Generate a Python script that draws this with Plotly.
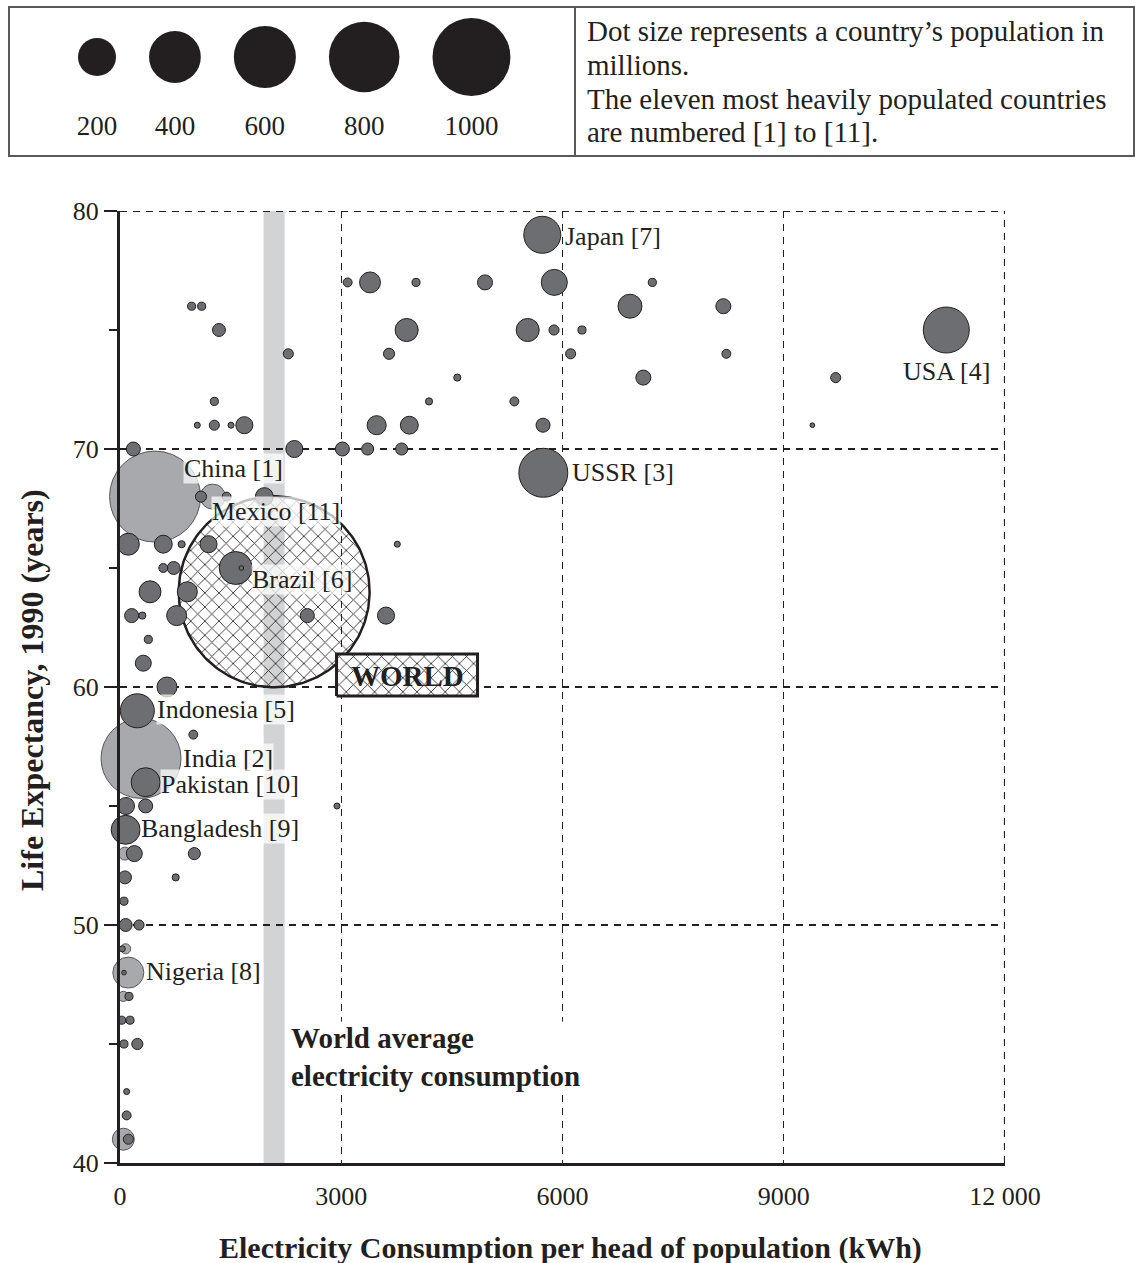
import numpy as np
import plotly.graph_objects as go

# ---------------- data ----------------
# unlabelled countries drawn in dark grey: kWh per head, life expectancy (years), population (millions)
dark_kwh = [971, 1107, 1342, 2282, 1279, 1048, 1279, 1505, 1686, 181, 2364, 3015, 3358, 3819,
            3087, 3390, 4014, 4949, 5889, 7218, 6915, 8181, 3887, 5528, 5885, 6264, 3648, 6110,
            8222, 4574, 7096, 9705, 4190, 5347, 3480, 3923, 5736, 9388, 1098, 1446, 1957, 113,
            587, 836, 1200, 3760, 587, 728, 1645, 407, 913, 158, 303, 768, 2540, 3607, 384, 316,
            637, 994, 2942, 81, 348, 194, 1008, 68, 755, 54, 77, 258, 31, 54, 122, 23, 136, 54,
            235, 90, 90, 113]
dark_life = [76, 76, 75, 74, 72, 71, 71, 71, 71, 70, 70, 70, 70, 70,
             77, 77, 77, 77, 77, 77, 76, 76, 75, 75, 75, 75, 74, 74,
             74, 73, 73, 73, 72, 72, 71, 71, 71, 71, 68, 68, 68, 66,
             66, 66, 66, 66, 65, 65, 65, 64, 64, 63, 63, 63, 63, 63, 62, 61,
             60, 58, 55, 55, 55, 53, 53, 52, 52, 51, 50, 50, 49, 48, 47, 46, 46, 45,
             45, 43, 42, 41]
dark_pop = [9, 9, 23, 14, 9, 5, 14, 5, 40, 27, 40, 27, 20, 20,
            11, 60, 9, 31, 93, 9, 79, 31, 73, 73, 14, 9, 17, 14,
            11, 7, 31, 14, 7, 11, 50, 44, 27, 3, 17, 11, 44, 66,
            44, 7, 40, 5, 11, 23, 3, 66, 55, 27, 7, 55, 27, 40, 9, 35,
            55, 11, 5, 40, 27, 35, 20, 23, 7, 9, 23, 14, 5, 3, 9, 9, 9, 9,
            17, 5, 11, 14]

# unlabelled countries drawn in light grey
light_kwh = [68, 77, 45, 45]
light_life = [53, 49, 47, 41]
light_pop = [23, 14, 14, 66]

# the eleven most populated countries
named = ["China [1]", "India [2]", "USSR [3]", "USA [4]", "Indonesia [5]", "Brazil [6]",
         "Japan [7]", "Nigeria [8]", "Bangladesh [9]", "Pakistan [10]", "Mexico [11]"]
named_kwh = [475, 285, 5740, 11204, 235, 1569, 5726, 113, 77, 348, 1257]
named_life = [68, 57, 69, 75, 59, 65, 79, 48, 54, 56, 68]
named_pop = [1136, 878, 329, 290, 159, 149, 188, 132, 115, 115, 86]
named_shade = ["light", "light", "dark", "dark", "dark", "dark", "dark", "light", "dark", "dark", "light"]

# world
world_kwh = 2090          # world average electricity consumption per head
world_life = 64.0
world_pop = 5000
world_label_kwh = 3892
world_label_life = 60.5

legend_pop = [200, 400, 600, 800, 1000]
x_ticks = [0, 3000, 6000, 9000, 12000]
x_ticktext = ["0", "3000", "6000", "9000", "12 000"]
y_ticks = [40, 50, 60, 70, 80]
y_minor = [45, 55, 65, 75]

# ---------------- styling ----------------
W, H = 1135, 1263
FONT = "Liberation Serif"
INK = "#231f20"
DARK = "#6d6e71"
LIGHT = "#a7a9ac"
BAND = "#d1d3d4"
BOX = "#58595b"
DASH = "7px,6px"
L, R, T, B = 120, 1005, 211, 1163          # plot box in px
X_RANGE = [0, 12000]
Y_RANGE = [40, 80]
PX_PER_X = (R - L) / (X_RANGE[1] - X_RANGE[0])
PX_PER_Y = (B - T) / (Y_RANGE[1] - Y_RANGE[0])
BAND_HALF_KWH = 142
HATCH = dict(shape="x", size=10, solidity=0.16, fgcolor=INK, fgopacity=1)


def diam(p):
    return 2.7 * np.sqrt(np.asarray(p, dtype=float))


def legend_diam(p):
    return 3.58 * np.asarray(p, dtype=float) ** 0.446


fig = go.Figure()

# world circle (hatched)
wr = diam(world_pop) / 2
th = np.linspace(0, 2 * np.pi, 241)
fig.add_trace(go.Scatter(
    x=world_kwh + wr / PX_PER_X * np.cos(th),
    y=world_life + wr / PX_PER_Y * np.sin(th),
    mode="lines", fill="toself", fillcolor="rgba(255,255,255,0)",
    fillpattern=dict(HATCH, bgcolor="rgba(255,255,255,0)"),
    line=dict(color=INK, width=2.5), hoverinfo="skip", cliponaxis=False))

# WORLD label box (hatched)
hw, hh = 70.5 / PX_PER_X, 21 / PX_PER_Y
fig.add_trace(go.Scatter(
    x=[world_label_kwh - hw, world_label_kwh + hw, world_label_kwh + hw, world_label_kwh - hw, world_label_kwh - hw],
    y=[world_label_life - hh, world_label_life - hh, world_label_life + hh, world_label_life + hh, world_label_life - hh],
    mode="lines", fill="toself", fillcolor="white",
    fillpattern=dict(HATCH, bgcolor="white"),
    line=dict(color=INK, width=3), hoverinfo="skip", cliponaxis=False))


def bubble_trace(xs, ys, ps, fill, edge):
    order = np.argsort(-np.asarray(ps, dtype=float), kind="stable")
    xs = np.asarray(xs, dtype=float)[order]
    ys = np.asarray(ys, dtype=float)[order]
    ps = np.asarray(ps, dtype=float)[order]
    return go.Scatter(x=xs, y=ys, mode="markers",
                      marker=dict(size=diam(ps), color=fill, line=dict(color=edge, width=1), opacity=1),
                      hoverinfo="skip", cliponaxis=False)


lx = light_kwh + [k for k, s in zip(named_kwh, named_shade) if s == "light"]
ly = light_life + [k for k, s in zip(named_life, named_shade) if s == "light"]
lp = light_pop + [k for k, s in zip(named_pop, named_shade) if s == "light"]
fig.add_trace(bubble_trace(lx, ly, lp, LIGHT, BOX))

dx = dark_kwh + [k for k, s in zip(named_kwh, named_shade) if s == "dark"]
dy = dark_life + [k for k, s in zip(named_life, named_shade) if s == "dark"]
dp = dark_pop + [k for k, s in zip(named_pop, named_shade) if s == "dark"]
fig.add_trace(bubble_trace(dx, dy, dp, DARK, INK))

# legend bubbles (top-left cell)
ld = legend_diam(legend_pop)
centers = []
c = 88.0
for i, d in enumerate(ld):
    if i:
        c += ld[i - 1] / 2 + 33 + d / 2
    centers.append(c)
fig.add_trace(go.Scatter(x=centers, y=[50] * len(centers), mode="markers",
                         marker=dict(size=ld, color=INK, line=dict(width=0), opacity=1),
                         xaxis="x2", yaxis="y2", hoverinfo="skip", cliponaxis=False))
fig.add_trace(go.Scatter(x=centers, y=[121] * len(centers), mode="text",
                         text=[str(p) for p in legend_pop],
                         textfont=dict(family=FONT, size=27, color=INK),
                         xaxis="x2", yaxis="y2", hoverinfo="skip", cliponaxis=False))

# ---------------- annotations ----------------
ann = []
# label placement: (xanchor, yanchor, extra x px beyond radius, y px)
label_place = {
    "China [1]": ("left", "middle", -18, 28),
    "India [2]": ("left", "middle", 1, 0),
    "USSR [3]": ("left", "middle", 3, 0),
    "USA [4]": ("center", "top", 0, None),
    "Indonesia [5]": ("left", "middle", 2, 1),
    "Brazil [6]": ("left", "middle", -1, -11),
    "Japan [7]": ("left", "middle", 3, -2),
    "Nigeria [8]": ("left", "middle", 1, 1),
    "Bangladesh [9]": ("left", "middle", 0, 1),
    "Pakistan [10]": ("left", "middle", 0, -2),
    "Mexico [11]": ("left", "middle", -14, -15),
}
for n, x, y, p in zip(named, named_kwh, named_life, named_pop):
    r = float(diam(p)) / 2
    xa, ya, ex, ey = label_place[n]
    if xa == "left":
        xs, ys = r + ex, ey
    else:
        xs, ys = 0, -(r + 3)
    ann.append(dict(x=x, y=y, xref="x", yref="y", text=n, showarrow=False,
                    xanchor=xa, yanchor=ya, xshift=xs, yshift=ys,
                    font=dict(family=FONT, size=26, color=INK),
                    bgcolor="rgba(255,255,255,0.72)", borderpad=0))

ann.append(dict(x=world_label_kwh, y=world_label_life, xref="x", yref="y", text="<b>WORLD</b>",
                showarrow=False, xanchor="center", yanchor="middle", yshift=-1,
                font=dict(family=FONT, size=29, color=INK)))

ann.append(dict(x=2310, y=44.45, xref="x", yref="y",
                text="<b>World average<br>electricity consumption</b>", showarrow=False,
                xanchor="left", yanchor="middle", align="left",
                font=dict(family=FONT, size=29, color=INK), bgcolor="white", borderpad=0))

# axis titles
ann.append(dict(x=570 / W, y=1 - 1248 / H, xref="paper", yref="paper",
                text="<b>Electricity Consumption per head of population (kWh)</b>", showarrow=False,
                xanchor="center", yanchor="middle", font=dict(family=FONT, size=30, color=INK)))
ann.append(dict(x=32 / W, y=1 - 690 / H, xref="paper", yref="paper", textangle=-90,
                text="<b>Life Expectancy, 1990 (years)</b>", showarrow=False,
                xanchor="center", yanchor="middle", font=dict(family=FONT, size=32, color=INK)))

# legend explanation text
legend_lines = ["Dot size represents a country’s population in", "millions.",
                "The eleven most heavily populated countries", "are numbered [1] to [11]."]
for line, py in zip(legend_lines, [31, 65, 99, 132]):
    ann.append(dict(x=585 / W, y=1 - py / H, xref="paper", yref="paper", text=line, showarrow=False,
                    xanchor="left", yanchor="middle", align="left",
                    font=dict(family=FONT, size=29, color=INK)))

# frame gridlines at the far ends of the ranges (nudged half a pixel inward for crisp rendering)
grid_line = dict(color=INK, width=1.2, dash=DASH)
top_y = Y_RANGE[1] - 0.5 / PX_PER_Y
right_x = X_RANGE[1] - 0.5 / PX_PER_X
shapes = [
    dict(type="rect", xref="x", yref="y", x0=world_kwh - BAND_HALF_KWH, x1=world_kwh + BAND_HALF_KWH,
         y0=Y_RANGE[0], y1=Y_RANGE[1], fillcolor=BAND, line=dict(width=0), layer="below"),
    dict(type="line", xref="x", yref="y", x0=X_RANGE[0], x1=X_RANGE[1], y0=top_y, y1=top_y,
         line=grid_line, layer="below"),
    dict(type="line", xref="x", yref="y", x0=right_x, x1=right_x, y0=Y_RANGE[0], y1=Y_RANGE[1],
         line=grid_line, layer="below"),
    dict(type="rect", xref="paper", yref="paper", x0=9 / W, x1=1134 / W, y0=1 - 156 / H, y1=1 - 7 / H,
         line=dict(color=BOX, width=2), fillcolor="rgba(0,0,0,0)"),
    dict(type="line", xref="paper", yref="paper", x0=575 / W, x1=575 / W, y0=1 - 156 / H, y1=1 - 7 / H,
         line=dict(color=BOX, width=2)),
]

axis_font = dict(family=FONT, size=26, color=INK)
fig.update_layout(
    width=W, height=H, margin=dict(l=0, r=0, t=0, b=0, autoexpand=False),
    paper_bgcolor="white", plot_bgcolor="rgba(0,0,0,0)", showlegend=False,
    xaxis=dict(domain=[L / W, R / W], range=X_RANGE, tickvals=x_ticks, ticktext=x_ticktext,
               showgrid=True, gridcolor=INK, gridwidth=1.2, griddash=DASH,
               showline=True, linecolor=INK, linewidth=3, zeroline=False,
               ticks="outside", ticklen=8, tickcolor="rgba(0,0,0,0)", tickfont=axis_font,
               fixedrange=True, anchor="y", automargin=False),
    yaxis=dict(domain=[1 - B / H, 1 - T / H], range=Y_RANGE, tickvals=y_ticks,
               showgrid=True, gridcolor=INK, gridwidth=1.2, griddash=DASH,
               showline=True, linecolor=INK, linewidth=3, zeroline=False,
               ticks="outside", ticklen=13, tickwidth=2, tickcolor=INK, tickfont=axis_font,
               minor=dict(tickvals=y_minor, ticks="outside", ticklen=8, tickwidth=2,
                          tickcolor=INK, showgrid=False),
               fixedrange=True, anchor="x", automargin=False),
    xaxis2=dict(domain=[9 / W, 575 / W], range=[0, 566], visible=False, fixedrange=True, anchor="y2"),
    yaxis2=dict(domain=[1 - 156 / H, 1 - 7 / H], range=[149, 0], visible=False, fixedrange=True, anchor="x2"),
    annotations=ann, shapes=shapes,
)

fig.write_html("out.html", config={"displayModeBar": False, "staticPlot": True},
               post_script="document.body.style.margin='0';document.body.style.overflow='hidden';")
